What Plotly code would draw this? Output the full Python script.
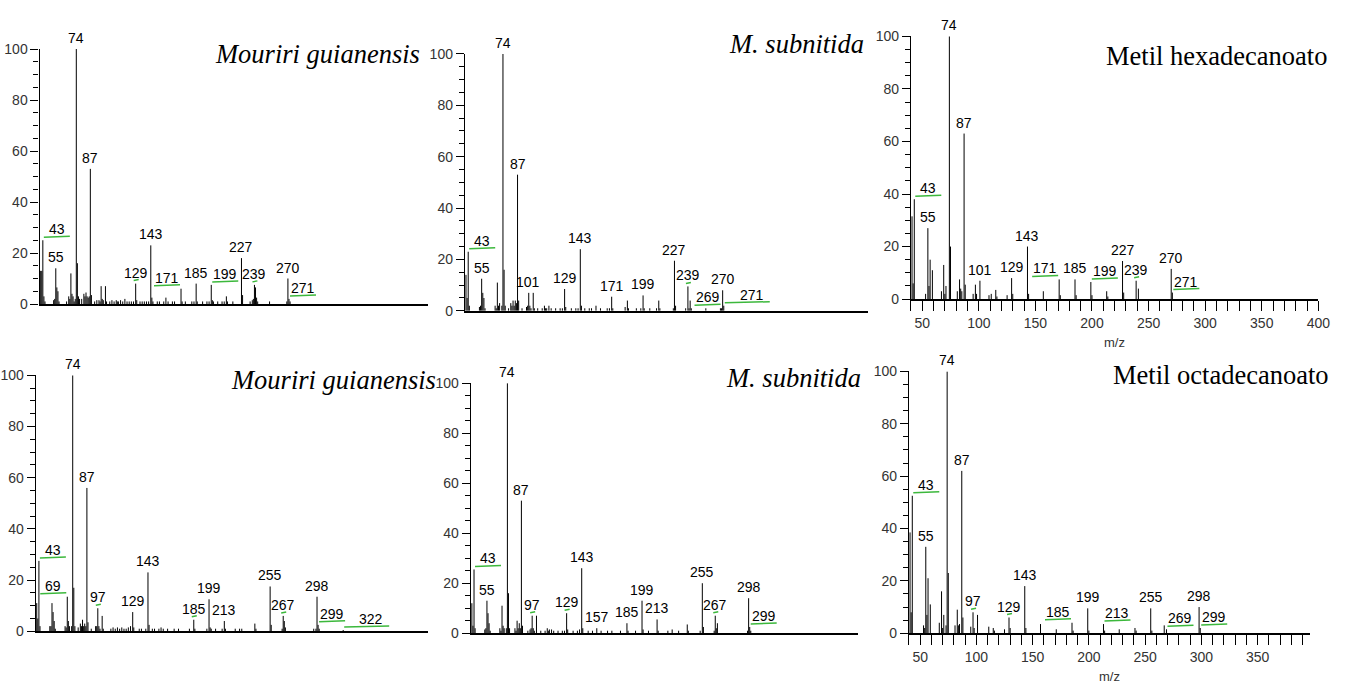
import plotly.graph_objects as go

W, H = 1362, 693

# ---------------- data (m/z, relative intensity %) ----------------
mg_c16_peaks = [(41,13),(42,13),(43,25),(44,3),(45,1),(53,1.5),(54,2),(55,14),(56,6.5),(57,5),(58,1),
    (65,1),(67,3),(68,2),(69,12),(70,4),(71,3),(72,1),(73,2),(74,100),(75,16),(76,3),(77,2),(79,2),
    (81,4),(82,3),(83,4.5),(84,3),(85,2.5),(86,3),(87,53),(88,3.5),(91,1),(93,1.5),(95,1.5),(96,1),
    (97,7),(98,2),(99,1.5),(101,7),(102,1),(105,1),(107,1.5),(109,1),(111,1.5),(112,1),(113,1),
    (115,1.5),(117,1),(119,2),(121,1),(123,1),(125,1),(127,1),(129,8),(130,1.5),(133,1),(135,1),
    (137,1),(139,1),(141,1),(143,23),(144,2.5),(145,1),(149,1),(151,1),(155,1),(157,2.5),(159,1),
    (163,1),(165,1),(171,6),(172,1),(175,1),(181,1),(183,1),(185,8),(186,1),(191,1),(195,1),(197,1),
    (199,7.5),(200,1.5),(201,1),(205,1),(209,1),(211,1),(213,3),(214,1),(219,1),(227,18),(228,3.5),
    (235,1),(237,1.5),(238,2),(239,7.5),(240,6.5),(241,2.5),(242,1),(253,1),(269,1),(270,10),(271,2),
    (272,1)]
mg_c16_labels = [43, 55, 74, 87, 129, 143, 171, 185, 199, 227, 239, 270, 271]

ms_c16_peaks = [(41,14),(42,5),(43,23),(44,2),(53,1.5),(54,2),(55,12.5),(56,7),(57,5),(58,1),(67,2),
    (68,1),(69,11),(70,2),(71,3),(73,2),(74,100),(75,16),(76,2),(79,1),(81,3),(82,2),(83,4),(84,2),
    (85,4),(86,3),(87,53),(88,4),(91,1),(95,1.5),(96,2),(97,7),(98,2),(99,1),(101,7),(102,1),(105,1),
    (109,1),(111,2),(112,1),(113,1),(115,2),(117,1),(121,1),(125,1),(127,1),(129,8.5),(130,1.5),
    (135,1),(139,1),(141,1),(143,24),(144,2),(147,1),(151,1),(153,1),(157,2),(161,1),(167,1),(169,1),
    (171,5.5),(172,1),(183,1.5),(185,4),(186,1),(193,1),(197,1),(199,6),(200,1),(205,1),(211,1),
    (213,4),(214,1),(226,1),(227,19.5),(228,2),(237,1),(239,9.5),(240,1),(241,4),(242,1),(255,1),
    (268,1),(269,1),(270,8),(271,2)]
ms_c16_labels = [43, 55, 74, 87, 101, 129, 143, 171, 199, 227, 239, 269, 270, 271]

ref_c16_peaks = [(41,31.5),(42,6),(43,38),(53,2),(55,27),(56,5),(57,15),(59,11),(67,3),(69,13),(70,2),
    (71,5),(74,100),(75,20),(81,3),(83,7.5),(84,4),(85,3),(87,63),(88,5.5),(95,2),(97,5.5),(98,2),
    (101,7),(109,1.5),(111,2),(115,3.5),(116,1),(125,1.5),(129,8),(130,2),(143,20),(144,2),(157,3),
    (171,7.5),(172,1.5),(185,7.5),(186,1.5),(199,6.5),(200,1.5),(213,3),(214,1),(227,14.5),(228,2.5),
    (239,7),(241,4),(270,11.5),(271,2.5)]
ref_c16_labels = [43, 55, 74, 87, 101, 129, 143, 171, 185, 199, 227, 239, 270, 271]

mg_c18_peaks = [(41,11),(42,5),(43,27.5),(44,2),(53,2),(54,2),(55,11),(56,7.5),(57,4),(58,1),(67,2),
    (68,1.5),(69,13.5),(70,4),(71,2),(73,2),(74,100),(75,17),(76,2),(79,1.5),(81,3),(82,2),(83,4.5),
    (84,2),(85,3),(86,2),(87,56),(88,3.5),(91,1),(95,2),(96,2),(97,9),(98,2),(99,1),(101,6),(102,1),
    (109,1),(111,1.5),(113,1),(115,1.5),(117,1),(119,1.5),(121,1),(123,1),(125,1.5),(127,2),(129,7.5),
    (130,1.5),(135,1),(137,1),(141,1),(143,23),(144,2.5),(147,1),(149,1),(153,1),(155,1.5),(157,1),
    (161,1),(167,1),(171,1),(181,1),(185,4.5),(186,1),(197,1),(199,12.5),(200,1.5),(201,1),(205,1),
    (211,1),(213,4),(214,1),(223,1),(227,1),(229,1),(241,3),(242,1),(255,17.5),(256,2.5),(266,1),
    (267,6),(268,4),(269,1.5),(295,1),(297,1),(298,13.5),(299,2.5),(300,1),(322,0.5)]
mg_c18_labels = [43, 69, 74, 87, 97, 129, 143, 185, 199, 213, 255, 267, 298, 299, 322]

ms_c18_peaks = [(41,12),(42,3),(43,25.5),(44,2),(53,1.5),(54,2),(55,13),(56,8),(57,4),(58,1),(67,2),
    (68,1),(69,11),(70,3),(71,2),(73,2),(74,100),(75,16),(76,2),(81,2),(82,1),(83,5),(84,2),(85,4),
    (86,2),(87,53),(88,3),(93,1),(95,1.5),(96,2),(97,7),(98,2),(99,1),(101,7),(105,1),(109,1),(111,2),
    (112,1),(113,1.5),(115,1.5),(117,1),(121,1),(125,1),(127,1),(129,8),(130,1.5),(135,1),(139,1),
    (141,1.5),(143,26),(144,2),(149,1),(153,1),(157,2),(161,1),(167,1),(171,1),(179,1),(185,4),(186,1),
    (193,1),(199,13),(200,1.5),(205,1),(213,5.5),(214,1),(223,1),(227,1.5),(233,1),(241,3.5),(242,1),
    (253,1),(255,20),(256,2.5),(266,1),(267,7),(268,2),(269,4),(297,1),(298,14),(299,2.5),(300,1)]
ms_c18_labels = [43, 55, 74, 87, 97, 129, 143, 157, 185, 199, 213, 255, 267, 298, 299]

ref_c18_peaks = [(41,38.5),(42,8),(43,52.5),(53,3),(54,2),(55,33),(56,7),(57,21),(59,11),(67,4),(69,16),
    (70,2),(71,7),(73,3),(74,100),(75,23),(81,3),(83,9),(84,3),(85,3.5),(87,62),(88,6),(95,2.5),(97,8),
    (98,2),(101,7),(111,2.5),(115,2),(116,1),(125,1.5),(129,6),(130,2),(143,18),(144,2),(157,3.5),
    (171,1.5),(185,4),(186,1),(199,9.5),(200,1),(213,3.5),(214,1),(227,1.5),(241,2),(242,1),(255,9.5),
    (256,1),(267,3),(269,1.5),(298,10),(299,2)]
ref_c18_labels = [43, 55, 74, 87, 97, 129, 143, 185, 199, 213, 255, 269, 298, 299]

titles = ["<i>Mouriri guianensis</i>", "<i>M. subnitida</i>", "Metil hexadecanoato",
          "<i>Mouriri guianensis</i>", "<i>M. subnitida</i>", "Metil octadecanoato"]
x_tick_labels = ["50", "100", "150", "200", "250", "300", "350", "400"]

# ---------------- layout / style (pixel geometry) ----------------
geoms = [
    dict(box=(37, 430, 42, 303), xmax=400, xt=False, tx=424, ty=47),
    dict(box=(467, 875, 47, 310), xmax=400, xt=False, tx=873, ty=37),
    dict(box=(918, 1330, 29, 298), xmax=400, xt=True, tx=1341, ty=49),
    dict(box=(33, 430, 376, 638), xmax=400, xt=False, tx=440, ty=381),
    dict(box=(473, 865, 384, 640), xmax=400, xt=False, tx=870, ty=379),
    dict(box=(916, 1322, 372, 640), xmax=397, xt=True, tx=1343, ty=376),
]
label_modes = [
    {43: 'r', 129: 't', 171: 'l', 199: 'r', 239: 't', 271: 'r'},
    {43: 'r', 101: 'cl', 239: 't', 269: 'l', 271: 'R'},
    {43: 'r', 171: 'l', 199: 'r', 239: 't', 271: 'r'},
    {43: 'r', 69: 'l', 97: 't', 185: 't', 267: 't', 299: 'r', 322: 'R'},
    {43: 'r', 97: 't', 129: 't', 267: 't', 299: 'r'},
    {43: 'r', 97: 't', 129: 't', 185: 'l', 213: 'r', 269: 'r', 299: 'r'},
]
mode_style = {
    'c': dict(dx=0, line=None),
    'cl': dict(dx=-5, line=None),
    't': dict(dx=0, line=(-2, 3)),
    'r': dict(dx=14, line=(1, 27)),
    'l': dict(dx=-14, line=(-27, -1)),
    'R': dict(dx=28, line=(1, 46)),
}
GREEN = "#3cb83c"
LABEL_FONT = dict(family="Liberation Sans, Arial, sans-serif", size=14, color="black")
TICK_FONT = dict(family="Liberation Sans, Arial, sans-serif", size=14, color="#333333")

spectra = [mg_c16_peaks, ms_c16_peaks, ref_c16_peaks, mg_c18_peaks, ms_c18_peaks, ref_c18_peaks]
labels = [mg_c16_labels, ms_c16_labels, ref_c16_labels, mg_c18_labels, ms_c18_labels, ref_c18_labels]

fig = go.Figure()
annotations = []
shapes = []

for i, (peaks, labs, g, modes, title) in enumerate(zip(spectra, labels, geoms, label_modes, titles), start=1):
    sfx = "" if i == 1 else str(i)
    xref, yref = "x" + sfx, "y" + sfx
    xs, ys = [], []
    for mz, it in peaks:
        xs += [mz, mz, None]
        ys += [0, it, None]
    fig.add_trace(go.Scatter(x=xs, y=ys, mode="lines", line=dict(color="black", width=1),
                             xaxis=xref, yaxis=yref, hoverinfo="skip", showlegend=False))
    left, right, top, bottom = g["box"]
    xaxis = dict(domain=[left / W, right / W], range=[40, g["xmax"]], anchor=yref,
                 showline=True, linecolor="black", linewidth=1.5, showgrid=False, zeroline=False)
    if g["xt"]:
        xaxis.update(ticks="outside", ticklen=10, tickcolor="black", tickwidth=1,
                     tickmode="array", tickvals=[int(t) for t in x_tick_labels],
                     ticktext=x_tick_labels, tickfont=TICK_FONT,
                     minor=dict(ticks="outside", dtick=10, tick0=0, ticklen=10, tickcolor="black"))
        annotations.append(dict(text="m/z", xref="paper", yref="paper",
                                x=(left + right) / 2 / W, y=1 - (bottom + 44) / H,
                                showarrow=False, xanchor="center", yanchor="middle",
                                font=dict(family="Liberation Sans, Arial, sans-serif", size=13, color="#333")))
    else:
        xaxis.update(showticklabels=False, ticks="")
    yaxis = dict(domain=[1 - bottom / H, 1 - top / H], range=[0, 100], anchor=xref,
                 showline=True, linecolor="black", linewidth=1.2, showgrid=False, zeroline=False,
                 ticks="outside", ticklen=8, tickcolor="black", dtick=20, tick0=0,
                 tickfont=TICK_FONT,
                 minor=dict(ticks="outside", dtick=5, tick0=0, ticklen=5, tickcolor="black"))
    fig.layout["xaxis" + sfx] = xaxis
    fig.layout["yaxis" + sfx] = yaxis

    inten = dict(peaks)
    for mz in labs:
        st = mode_style[modes.get(mz, 'c')]
        annotations.append(dict(text=str(mz), x=mz, y=inten[mz], xref=xref, yref=yref,
                                xanchor="center", yanchor="bottom", showarrow=False,
                                xshift=st["dx"], yshift=1, font=LABEL_FONT))
        if st["line"] is not None:
            shapes.append(dict(type="line", xref=xref, yref=yref,
                               xsizemode="pixel", xanchor=mz, x0=st["line"][0], x1=st["line"][1],
                               ysizemode="pixel", yanchor=inten[mz], y0=3, y1=4,
                               line=dict(color=GREEN, width=1.5)))

    annotations.append(dict(text=title, xref="paper", yref="paper", x=g["tx"] / W, y=1 - g["ty"] / H,
                            xanchor="right", yanchor="middle", showarrow=False,
                            font=dict(family="Liberation Serif, Times New Roman, serif", size=26.5,
                                      color="black")))

fig.update_layout(width=W, height=H, autosize=False, margin=dict(l=0, r=0, t=0, b=0),
                  plot_bgcolor="white", paper_bgcolor="white",
                  annotations=annotations, shapes=shapes, showlegend=False)

fig.write_html("out.html")
